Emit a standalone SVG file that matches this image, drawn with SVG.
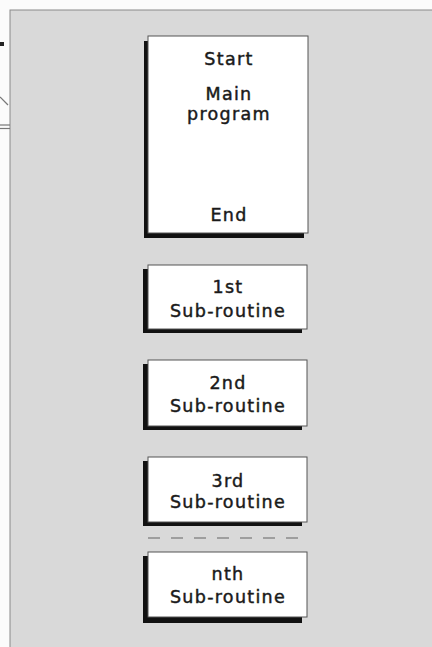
<svg xmlns="http://www.w3.org/2000/svg" width="432" height="647" viewBox="0 0 432 647">
<style>
.panel{fill:#d9d9d9;stroke:#8a8a8a;stroke-width:1}
.shadow{fill:#111}
.box{fill:#ffffff;stroke:#555;stroke-width:1}
.lbl{font-family:"DejaVu Sans",sans-serif;font-size:17.5px;letter-spacing:1.3px;fill:#1a1a1a;stroke:#1a1a1a;stroke-width:0.45px;text-anchor:middle}
.stray{stroke:#777;stroke-width:1.2;fill:none}
</style>
<rect width="432" height="647" fill="#fbfbfb"/>
<g id="panel">
<rect class="panel" x="10" y="10" width="430" height="645"/>
</g>
<g id="stray-marks">
<rect x="0" y="42" width="4" height="4" fill="#222"/>
<line class="stray" x1="0" y1="97" x2="8" y2="105"/>
<line class="stray" x1="0" y1="125" x2="10" y2="125"/>
<line class="stray" x1="0" y1="128.5" x2="10" y2="128.5"/>
</g>
<g id="main-program">
<rect class="shadow" x="144" y="41" width="160" height="197"/>
<rect class="box" x="148" y="36" width="160" height="197"/>
<text class="lbl" x="229" y="65">Start</text>
<text class="lbl" x="229" y="100">Main</text>
<text class="lbl" x="229" y="120">program</text>
<text class="lbl" x="229" y="221">End</text>
</g>
<g id="sub1">
<rect class="shadow" x="143" y="269" width="159" height="64"/>
<rect class="box" x="148" y="265" width="159" height="64"/>
<text class="lbl" x="228" y="293">1st</text>
<text class="lbl" x="228" y="317">Sub-routine</text>
</g>
<g id="sub2">
<rect class="shadow" x="143" y="364" width="159" height="66"/>
<rect class="box" x="148" y="360" width="159" height="66"/>
<text class="lbl" x="228" y="389">2nd</text>
<text class="lbl" x="228" y="412">Sub-routine</text>
</g>
<g id="sub3">
<rect class="shadow" x="143" y="461" width="159" height="65"/>
<rect class="box" x="148" y="457" width="159" height="65"/>
<text class="lbl" x="228" y="487">3rd</text>
<text class="lbl" x="228" y="508">Sub-routine</text>
</g>
<g id="connectors">
<line x1="148" y1="538" x2="308" y2="538" stroke="#8a8a8a" stroke-width="1.5" stroke-dasharray="12 11"/>
</g>
<g id="subn">
<rect class="shadow" x="143" y="556" width="159" height="67"/>
<rect class="box" x="148" y="552" width="159" height="65"/>
<text class="lbl" x="228" y="580">nth</text>
<text class="lbl" x="228" y="603">Sub-routine</text>
</g>
</svg>
